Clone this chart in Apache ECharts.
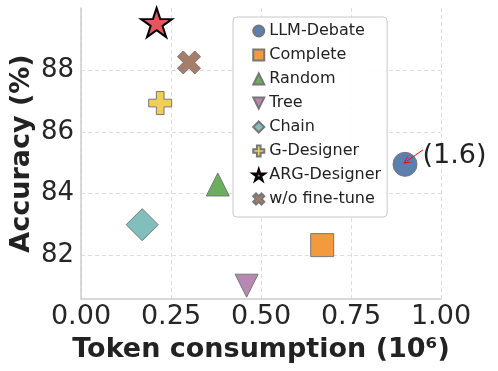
<!DOCTYPE html>
<html>
<head>
<meta charset="utf-8">
<script src="https://cdn.jsdelivr.net/npm/echarts@6/dist/echarts.min.js"></script>
<style>
html, body { margin: 0; padding: 0; background: #fff; }
#main { width: 498px; height: 371px; }
</style>
</head>
<body>
<div id="main"></div>
<script>
// methods and their (token consumption 10^6, accuracy %) values
var methods = ['LLM-Debate', 'Complete', 'Random', 'Tree', 'Chain', 'G-Designer', 'ARG-Designer', 'w/o fine-tune'];
var tokens = [0.90, 0.67, 0.38, 0.46, 0.17, 0.22, 0.21, 0.30];
var accuracy = [84.95, 82.34, 84.3, 81.03, 83.0, 86.93, 89.53, 88.24];
var xTicks = [0, 0.25, 0.5, 0.75, 1.0];
var yTicks = [82, 84, 86, 88];
var debateNote = '(1.6)';

var FONT = 'DejaVu Sans';
var STAR = 'path://M0,-1 L0.2245,-0.309 L0.9511,-0.309 L0.3633,0.118 L0.5878,0.809 L0,0.382 L-0.5878,0.809 L-0.3633,0.118 L-0.9511,-0.309 L-0.2245,-0.309 Z';
var PLUS = 'path://M1,0 H2 V1 H3 V2 H2 V3 H1 V2 H0 V1 H1 Z';
var CROSS = 'path://M0,1 L1,0 L2,1 L3,0 L4,1 L3,2 L4,3 L3,4 L2,3 L1,4 L0,3 L1,2 Z';
var TRI_DOWN = 'path://M0,0 L2,0 L1,2 Z';

var styles = [
	{ symbol: 'circle', size: 24, color: '#5b80b0' },
	{ symbol: 'rect', size: 23, color: '#f39a3f' },
	{ symbol: 'triangle', size: 23, color: '#6aae5e' },
	{ symbol: TRI_DOWN, size: 23, color: '#b887b2' },
	{ symbol: 'diamond', size: 32, color: '#80bfbc' },
	{ symbol: PLUS, size: 23, color: '#f0cf55' },
	{ symbol: STAR, size: [31, 29], color: '#e5575d', border: '#000', bw: 2 },
	{ symbol: CROSS, size: 23, color: '#a57d68' }
];

var chart = echarts.init(document.getElementById('main'));

var series = methods.map(function (name, i) {
	var st = styles[i];
	var s = {
		name: name,
		type: 'scatter',
		symbol: st.symbol,
		symbolSize: st.size,
		itemStyle: { color: st.color, borderColor: st.border || '#777', borderWidth: st.bw || 1, opacity: 1 },
		data: [[tokens[i], accuracy[i]]],
		z: 3
	};
	if (i === 0) {
		s.label = {
			show: true, position: 'right', distance: 5, offset: [0, -8],
			formatter: debateNote, fontFamily: FONT, fontSize: 27, color: '#222'
		};
		s.markLine = {
			silent: true,
			symbol: ['none', 'path://M0,10 L5,0 L10,10 L5,3 Z'],
			symbolSize: [9, 10],
			lineStyle: { color: '#ff0000', width: 1, type: 'solid' },
			label: { show: false },
			data: [[{ coord: [0.95, 85.42] }, { coord: [0.906, 85.06] }]]
		};
	}
	return s;
});

var legendData = methods.map(function (name) {
	if (name === 'ARG-Designer') {
		return { name: name, itemStyle: { color: '#e5575d', borderColor: '#000', borderWidth: 2.5 } };
	}
	return name;
});

var option = {
	animation: false,
	textStyle: { fontFamily: FONT },
	grid: { left: 81, right: 57, top: 8, bottom: 72, containLabel: false, outerBoundsMode: 'none' },
	legend: {
		orient: 'vertical',
		left: 233, top: 17,
		padding: [6, 6, 10, 19],
		itemGap: 8,
		itemWidth: 11, itemHeight: 11,
		itemTextGap: 9,
		backgroundColor: 'rgba(255,255,255,0.9)',
		borderColor: '#c8c8c8', borderWidth: 1, borderRadius: 4,
		textStyle: { fontFamily: FONT, fontSize: 16, color: '#222', lineHeight: 16 },
		data: legendData
	},
	xAxis: {
		type: 'value', min: 0, max: 1, interval: 0.25,
		name: 'Token consumption (10⁶)', nameLocation: 'middle', nameGap: 37,
		nameTextStyle: { fontFamily: FONT, fontSize: 27, fontWeight: 'bold', color: '#222' },
		axisLine: { show: true, lineStyle: { color: '#cccccc', width: 1.5 } },
		axisTick: { show: false },
		axisLabel: { fontFamily: FONT, fontSize: 27, color: '#262626', margin: 4,
			formatter: function (v) { return v.toFixed(2); } },
		splitLine: { show: true, lineStyle: { color: '#dddddd', type: [4, 3], width: 1 } }
	},
	yAxis: {
		type: 'value', min: 80.6, max: 90,
		name: 'Accuracy (%)', nameLocation: 'middle', nameGap: 46, nameMoveOverlap: false,
		nameTextStyle: { fontFamily: FONT, fontSize: 27, fontWeight: 'bold', color: '#222' },
		axisLine: { show: true, lineStyle: { color: '#cccccc', width: 1.5 } },
		axisTick: { show: false, customValues: yTicks },
		axisLabel: { fontFamily: FONT, fontSize: 26, color: '#262626', margin: 7, customValues: yTicks },
		splitLine: { show: true, lineStyle: { color: '#dddddd', type: [4, 3], width: 1 } }
	},
	series: series
};
chart.setOption(option);
</script>
</body>
</html>
